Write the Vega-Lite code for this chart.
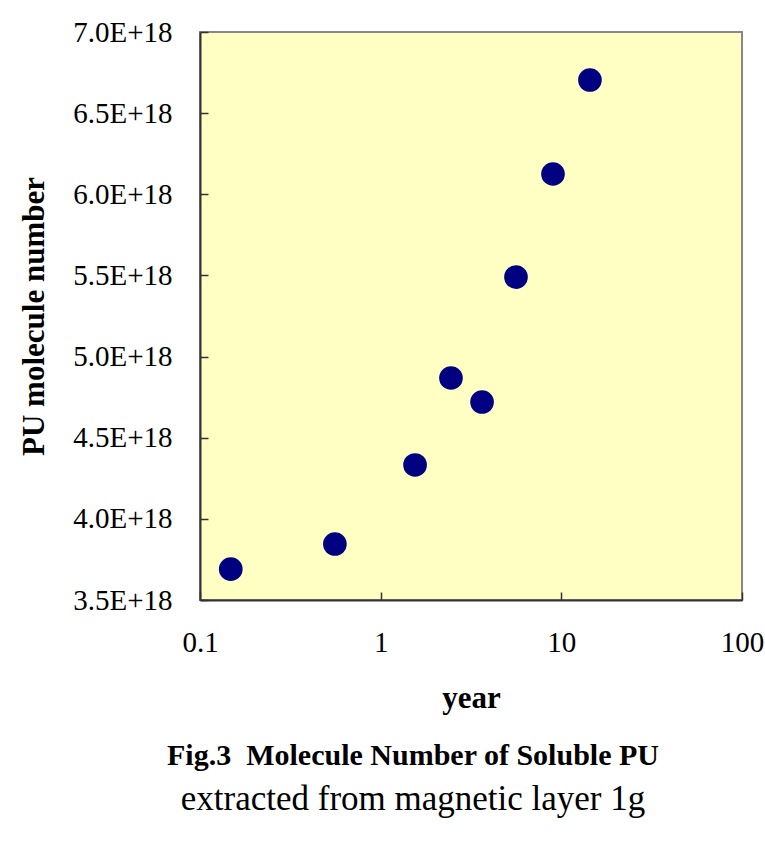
{
  "$schema": "https://vega.github.io/schema/vega-lite/v6.json",
  "width": 542,
  "height": 568,
  "autosize": {"type": "none"},
  "padding": {"left": 200, "top": 32, "right": 23, "bottom": 243},
  "background": "white",
  "title": {
    "text": "Fig.3\u00a0\u00a0Molecule Number of Soluble PU",
    "subtitle": "extracted from magnetic layer 1g",
    "orient": "bottom",
    "anchor": "middle",
    "dx": -58,
    "offset": 28,
    "font": "Liberation Serif",
    "fontSize": 30,
    "fontWeight": "bold",
    "color": "black",
    "subtitleFont": "Liberation Serif",
    "subtitleFontSize": 35,
    "subtitleColor": "black",
    "subtitlePadding": 11
  },
  "config": {
    "view": {"fill": "#FFFFC4", "stroke": "#888888", "strokeWidth": 2},
    "axis": {
      "labelFont": "Liberation Serif",
      "labelFontSize": 29,
      "labelColor": "black",
      "titleFont": "Liberation Serif",
      "titleFontSize": 31,
      "titleFontWeight": "bold",
      "titleColor": "black",
      "domainColor": "#333333",
      "domainWidth": 2,
      "tickColor": "#333333",
      "tickWidth": 1.5,
      "tickSize": -8,
      "grid": false
    }
  },
  "data": {
    "values": [
      {"year": 0.148, "n": 3.69e18},
      {"year": 0.558, "n": 3.845e18},
      {"year": 1.55, "n": 4.332e18},
      {"year": 2.45, "n": 4.868e18},
      {"year": 3.64, "n": 4.72e18},
      {"year": 5.61, "n": 5.49e18},
      {"year": 8.99, "n": 6.125e18},
      {"year": 14.4, "n": 6.704e18}
    ]
  },
  "mark": {"type": "point", "filled": true, "shape": "circle", "size": 560, "color": "#000080", "opacity": 1},
  "encoding": {
    "x": {
      "field": "year",
      "type": "quantitative",
      "scale": {"type": "log", "domain": [0.1, 100], "nice": false},
      "axis": {
        "title": "year",
        "values": [0.1, 1, 10, 100],
        "labelExpr": "datum.value < 1 ? '0.1' : format(datum.value, 'd')",
        "labelFlush": false,
        "labelPadding": 36,
        "titlePadding": 26
      }
    },
    "y": {
      "field": "n",
      "type": "quantitative",
      "scale": {"domain": [3.5e18, 7.0e18], "nice": false, "zero": false},
      "axis": {
        "title": "PU molecule number",
        "values": [3.5e18, 4.0e18, 4.5e18, 5.0e18, 5.5e18, 6.0e18, 6.5e18, 7.0e18],
        "labelExpr": "format(datum.value / 1e18, '.1f') + 'E+18'",
        "labelPadding": 36,
        "titlePadding": 22
      }
    }
  }
}
